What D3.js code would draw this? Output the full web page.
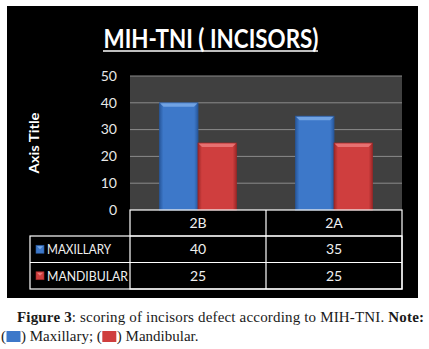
<!DOCTYPE html>
<html><head><meta charset="utf-8">
<script src="https://cdn.jsdelivr.net/npm/d3@7"></script>
<style>body{margin:0;background:#fff;}svg{display:block;}</style>
</head><body>
<svg id="c" width="429" height="349"></svg>
<script>
const categories = ["2B", "2A"];
const seriesNames = ["MAXILLARY", "MANDIBULAR"];
const maxillary = [40, 35];
const mandibular = [25, 25];
const yTicks = [0, 10, 20, 30, 40, 50];
const chartTitle = "MIH-TNI ( INCISORS)";
const yAxisTitle = "Axis Title";

const series = [
  {name: seriesNames[0], values: maxillary, fill: "#3d78c9", dark: "#28589c", light: "#7aaae8"},
  {name: seriesNames[1], values: mandibular, fill: "#cf3e3e", dark: "#9c2727", light: "#ec7a7a"}
];

const svg = d3.select("#c");
const font = "Lato, 'Open Sans', sans-serif";

svg.append("rect").attr("x", 7).attr("y", 6).attr("width", 411).attr("height", 292).attr("fill", "#000");

const defs = svg.append("defs");
series.forEach((s, i) => {
  const g = defs.append("linearGradient").attr("id", "g" + i).attr("x1", 0).attr("x2", 1).attr("y1", 0).attr("y2", 0);
  g.append("stop").attr("offset", "0%").attr("stop-color", s.dark);
  g.append("stop").attr("offset", "10%").attr("stop-color", s.fill);
  g.append("stop").attr("offset", "90%").attr("stop-color", s.fill);
  g.append("stop").attr("offset", "100%").attr("stop-color", s.dark);
});

svg.append("text").attr("x", 211).attr("y", 48).attr("text-anchor", "middle")
  .attr("fill", "#fff").attr("font-family", font).attr("font-weight", "bold").attr("font-size", 27)
  .attr("textLength", 215).attr("lengthAdjust", "spacingAndGlyphs")
  .text(chartTitle);
svg.append("line").attr("x1", 103).attr("x2", 318).attr("y1", 51).attr("y2", 51)
  .attr("stroke", "#fff").attr("stroke-width", 1.5);

const plot = {x0: 130, x1: 402, y0: 76, y1: 210};
const x = d3.scaleBand().domain(categories).range([plot.x0, plot.x1]);
const y = d3.scaleLinear().domain([0, 50]).range([plot.y1, plot.y0]);
const bw = 38.5;

svg.append("rect").attr("x", plot.x0).attr("y", plot.y0).attr("width", plot.x1 - plot.x0).attr("height", plot.y1 - plot.y0).attr("fill", "#404040");

svg.append("g").selectAll("line").data(yTicks.filter(t => t > 0)).join("line")
  .attr("x1", plot.x0).attr("x2", plot.x1).attr("y1", d => y(d)).attr("y2", d => y(d))
  .attr("stroke", "#8a8a8a").attr("stroke-width", 1);

const ya = svg.append("g").attr("transform", `translate(117,0)`)
  .call(d3.axisLeft(y).tickValues(yTicks).tickSize(0).tickPadding(0));
ya.select(".domain").remove();
ya.selectAll("text").attr("fill", "#e8e8e8").attr("font-family", font).attr("font-size", 14).attr("dy", "0.3em");

svg.append("text").attr("transform", "translate(39,143) rotate(-90)").attr("text-anchor", "middle")
  .attr("fill", "#fff").attr("font-family", font).attr("font-weight", "bold").attr("font-size", 14)
  .attr("textLength", 61).attr("lengthAdjust", "spacingAndGlyphs")
  .text(yAxisTitle);

series.forEach((s, i) => {
  const g = svg.append("g");
  categories.forEach((c, j) => {
    const bx = x(c) + x.bandwidth() / 2 - bw + i * bw;
    const by = y(s.values[j]);
    const h = y(0) - by;
    g.append("rect").attr("x", bx).attr("y", by).attr("width", bw).attr("height", h).attr("fill", `url(#g${i})`)
      .attr("stroke", s.dark).attr("stroke-width", 0.8);
    g.append("path").attr("d", `M${bx + 0.5},${by + 0.5}L${bx + bw - 0.5},${by + 0.5}L${bx + bw - 4},${by + 4}L${bx + 4},${by + 4}Z`)
      .attr("fill", s.light).attr("opacity", 0.85);
  });
});

const rowY = [210, 236, 262.5, 289];
const colX = [30, 130, 266, 402];
const tbl = svg.append("g").attr("stroke", "#fff").attr("stroke-width", 1.2).attr("fill", "none");
tbl.append("rect").attr("x", colX[1]).attr("y", rowY[0]).attr("width", colX[3] - colX[1]).attr("height", rowY[3] - rowY[0]);
tbl.append("rect").attr("x", colX[0]).attr("y", rowY[1]).attr("width", colX[3] - colX[0]).attr("height", rowY[3] - rowY[1]);
tbl.append("line").attr("x1", colX[0]).attr("x2", colX[3]).attr("y1", rowY[2]).attr("y2", rowY[2]);
tbl.append("line").attr("x1", colX[1]).attr("x2", colX[3]).attr("y1", rowY[1]).attr("y2", rowY[1]);
tbl.append("line").attr("x1", colX[2]).attr("x2", colX[2]).attr("y1", rowY[0]).attr("y2", rowY[3]);

const tsize = 14;
categories.forEach((c, j) => {
  svg.append("text").attr("x", x(c) + x.bandwidth() / 2).attr("y", (rowY[0] + rowY[1]) / 2 + 5)
    .attr("text-anchor", "middle").attr("fill", "#f0f0f0").attr("font-family", font).attr("font-size", tsize).text(c);
  series.forEach((s, i) => {
    svg.append("text").attr("x", x(c) + x.bandwidth() / 2).attr("y", (rowY[i + 1] + rowY[i + 2]) / 2 + 5)
      .attr("text-anchor", "middle").attr("fill", "#f0f0f0").attr("font-family", font).attr("font-size", tsize).text(s.values[j]);
  });
});
series.forEach((s, i) => {
  const cy = (rowY[i + 1] + rowY[i + 2]) / 2;
  svg.append("rect").attr("x", 36).attr("y", cy - 4).attr("width", 8).attr("height", 8).attr("fill", s.fill).attr("stroke", s.dark).attr("stroke-width", 0.6);
  svg.append("path").attr("d", `M37,${cy - 3}L43,${cy - 3}L40,${cy}Z`).attr("fill", s.light);
  svg.append("text").attr("x", 47).attr("y", cy + 5).attr("fill", "#f0f0f0").attr("font-family", font).attr("font-size", tsize)
    .attr("textLength", i === 1 ? 81 : 64).attr("lengthAdjust", "spacingAndGlyphs").text(s.name);
});

const serif = "'Liberation Serif', 'Times New Roman', serif";
const csize = 15;
const cap = svg.append("text").attr("x", 17).attr("y", 322).attr("font-family", serif)
  .attr("font-size", csize).attr("fill", "#1a1a1a").attr("textLength", 407).attr("lengthAdjust", "spacing");
cap.append("tspan").attr("font-weight", "bold").text("Figure 3");
cap.append("tspan").text(": scoring of incisors defect according to MIH-TNI. ");
cap.append("tspan").attr("font-weight", "bold").text("Note:");

const cap2 = svg.append("g").attr("font-family", serif).attr("font-size", csize).attr("fill", "#1a1a1a");
let cx = 1;
const parts = [{t: "("}, {sw: 0}, {t: ") Maxillary; ("}, {sw: 1}, {t: ") Mandibular."}];
parts.forEach(p => {
  if (p.t !== undefined) {
    const t = cap2.append("text").attr("x", cx).attr("y", 341).text(p.t);
    cx += t.node().getComputedTextLength();
  } else {
    cap2.append("rect").attr("x", cx + 0.5).attr("y", 331).attr("width", 14).attr("height", 11).attr("fill", series[p.sw].fill);
    cx += 15;
  }
});
</script>
</body></html>
